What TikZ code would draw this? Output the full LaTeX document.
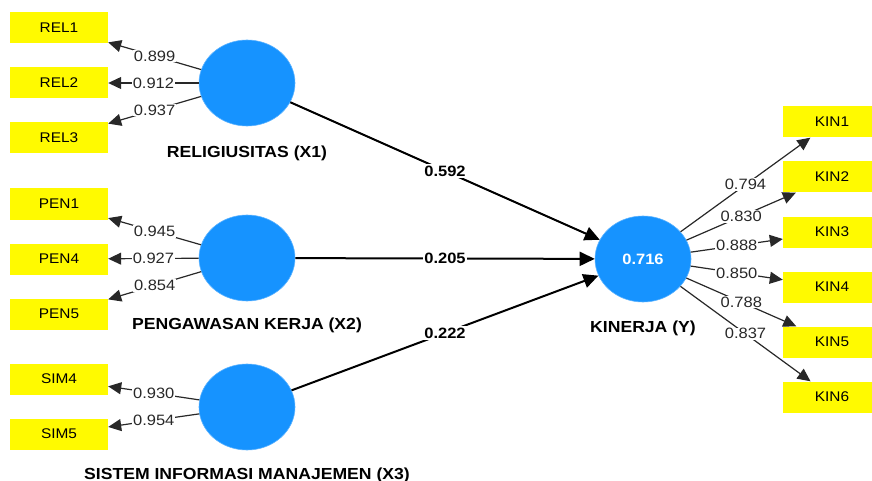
\documentclass[tikz,border=0pt]{standalone}
\usepackage{fontspec}
\setmainfont[FakeStretch=1.1]{Liberation Sans}
\usetikzlibrary{arrows.meta,positioning,shapes.geometric}

\definecolor{plsblue}{RGB}{22,147,255}
\definecolor{plsyellow}{RGB}{255,250,0}
\definecolor{loadgray}{RGB}{40,40,40}

\begin{document}
\begin{tikzpicture}[
    x=1pt, y=-1pt,
    indicator/.style={rectangle, fill=plsyellow, minimum width=98pt, minimum height=31pt,
        inner sep=0pt, font=\fontsize{14}{16}\selectfont},
    latent/.style={ellipse, fill=plsblue, draw=plsblue!70!white, line width=0.6pt,
        minimum width=96pt, minimum height=86pt, inner sep=0pt, text=white,
        font=\fontsize{15}{17}\selectfont\bfseries},
    latentlabel/.style={inner sep=0pt, font=\fontsize{16}{18}\selectfont\bfseries},
    loading/.style={draw=loadgray, line width=1.2pt, -{Triangle[length=13pt,width=12pt]}},
    pathline/.style={draw, line width=2pt, -{Triangle[length=15pt,width=14pt]}},
    loadlabel/.style={fill=white, inner sep=1pt, text=loadgray, font=\fontsize{15}{17}\selectfont},
    pathlabel/.style={fill=white, inner sep=1.5pt, font=\fontsize{15}{17}\selectfont\bfseries}
]
\useasboundingbox (0,0) rectangle (872,481);

% latent variables
\node (X1) [latent] at (247,83) {};
\node (X2) [latent] at (247,258) {};
\node (X3) [latent] at (247,407) {};
\node (Y) [latent] at (643,259) {0.716};

\node (X1lab) [latentlabel, below=19pt of X1] {RELIGIUSITAS (X1)};
\node (X2lab) [latentlabel, below=16pt of X2] {PENGAWASAN KERJA (X2)};
\node (X3lab) [latentlabel, below=17pt of X3] {SISTEM INFORMASI MANAJEMEN (X3)};
\node (Ylab) [latentlabel, below=18pt of Y] {KINERJA (Y)};

% indicators
\node (REL1) [indicator] at (59,28) {REL1};
\node (REL2) [indicator] at (59,83) {REL2};
\node (REL3) [indicator] at (59,138) {REL3};
\node (PEN1) [indicator] at (59,204) {PEN1};
\node (PEN4) [indicator] at (59,259) {PEN4};
\node (PEN5) [indicator] at (59,314) {PEN5};
\node (SIM4) [indicator] at (59,379) {SIM4};
\node (SIM5) [indicator] at (59,434) {SIM5};
\foreach \i/\y in {1/122,2/177,3/232,4/287,5/342,6/397}
  \node (KIN\i) [indicator] at (832,\y) {KIN\i};

% outer loadings
\foreach \lv/\ind/\val in {X1/REL1/0.899, X1/REL2/0.912, X1/REL3/0.937,
    X2/PEN1/0.945, X2/PEN4/0.927, X2/PEN5/0.854,
    X3/SIM4/0.930, X3/SIM5/0.954}
  \draw [loading] (\lv) -- node[loadlabel, pos=0.5] {\val} (\ind);
\foreach \i/\val in {1/0.794,2/0.830,3/0.888,4/0.850,5/0.788,6/0.837}
  \draw [loading] (Y) -- node[loadlabel, pos=0.5] {\val} (KIN\i);

% path coefficients
\draw [pathline] (X1) -- node[pathlabel] {0.592} (Y);
\draw [pathline] (X2) -- node[pathlabel] {0.205} (Y);
\draw [pathline] (X3) -- node[pathlabel] {0.222} (Y);
\end{tikzpicture}
\end{document}
